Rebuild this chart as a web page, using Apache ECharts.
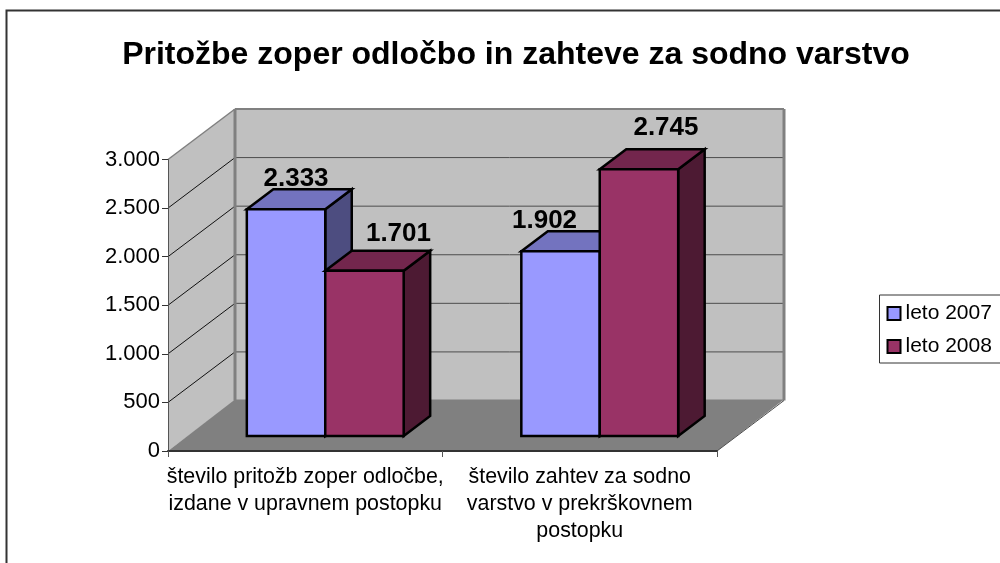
<!DOCTYPE html>
<html><head><meta charset="utf-8">
<style>html,body{margin:0;padding:0;background:#fff;overflow:hidden}#c{width:1000px;height:563px}</style>
<script src="https://cdn.jsdelivr.net/npm/echarts@6/dist/echarts.min.js"></script>
</head><body><div id="c"></div>
<script>
const titleText = 'Pritožbe zoper odločbo in zahteve za sodno varstvo';
const categories = ['število pritožb zoper odločbe,\nizdane v upravnem postopku',
                    'število zahtev za sodno\nvarstvo v prekrškovnem\npostopku'];
const nameA = 'leto 2007';
const nameB = 'leto 2008';
const valuesA = [2333, 1902];
const valuesB = [1701, 2745];
const yMax = 3000;
const yStep = 500;
const yTicks = [0, 500, 1000, 1500, 2000, 2500, 3000];

const FONT = '"Liberation Sans", Arial, sans-serif';
const fmt = v => String(v).replace(/\B(?=(\d{3})+$)/g, '.');
const WALL = [67, -50.5];      // projected depth of the whole chart box
const FRONT = [20, -15];       // projected gap from front edge to bar front
const BAR = [26.5, -20];       // projected depth of one bar
const LABEL_SHIFT = { [nameA]: [[10, 3], [-16, 3]], [nameB]: [[34, -4], [27, -8]] };

function wallItem(params, api) {
  const r = params.coordSys;
  const L = r.x, R = r.x + r.width, B = r.y + r.height, T = r.y;
  const [dx, dy] = WALL;
  const kids = [];
  const poly = (points, fill) => kids.push({ type: 'polygon', shape: { points }, style: { fill, stroke: null } });
  const line = (x1, y1, x2, y2, stroke, lineWidth) =>
    kids.push({ type: 'line', shape: { x1, y1, x2, y2 }, style: { stroke, lineWidth, fill: null } });
  poly([[L + dx, T + dy], [R + dx, T + dy], [R + dx, B + dy], [L + dx, B + dy]], '#C0C0C0');
  poly([[L, T], [L + dx, T + dy], [L + dx, B + dy], [L, B]], '#C0C0C0');
  poly([[L, B], [R, B], [R + dx, B + dy - 1], [L + dx, B + dy - 1]], '#808080');
  yTicks.forEach(t => {
    const y = api.coord([0, t])[1];
    if (t > 0 && t < yMax) {
      line(L + dx, y + dy, R + dx, y + dy, '#4d4d4d', 1);
      line(L, y, L + dx, y + dy, '#111', 1);
    }
  });
  line(L, T, L + dx, T + dy, '#808080', 1.5);
  line(L + dx, T + dy, R + dx, T + dy, '#808080', 2);
  line(L + dx, T + dy, L + dx, B + dy, '#808080', 3);
  line(R + dx, T + dy, R + dx, B + dy, '#808080', 3);
  line(R, B, R + dx, B + dy, '#4d4d4d', 1);
  return { type: 'group', children: kids };
}

function barItem(slot, colors, name) {
  return function (params, api) {
    const idx = api.value(0), val = api.value(1);
    const band = api.size([1, 0])[0];
    const w = band / 3.5;
    const cx = api.coord([idx, 0])[0];
    const x0 = cx + FRONT[0] + (slot - 1) * w, x1 = x0 + w;
    const y0 = api.coord([idx, 0])[1] + FRONT[1];
    const y1 = api.coord([idx, val])[1] + FRONT[1];
    const [dx, dy] = BAR;
    const st = fill => ({ fill, stroke: '#000', lineWidth: 2.5, lineJoin: 'miter' });
    const shift = LABEL_SHIFT[name][idx];
    return { type: 'group', children: [
      { type: 'polygon', shape: { points: [[x1, y0], [x1 + dx, y0 + dy], [x1 + dx, y1 + dy], [x1, y1]] }, style: st(colors.side) },
      { type: 'polygon', shape: { points: [[x0, y1], [x1, y1], [x1 + dx, y1 + dy], [x0 + dx, y1 + dy]] }, style: st(colors.top) },
      { type: 'rect', shape: { x: x0, y: y1, width: w, height: y0 - y1 }, style: st(colors.front) },
      { type: 'text', z2: 100, style: {
          text: fmt(val), x: (x0 + x1) / 2 + shift[0], y: y1 + dy + shift[1],
          fill: '#000', font: 'bold 26px ' + FONT, textAlign: 'center', textVerticalAlign: 'bottom' } }
    ] };
  };
}

const chart = echarts.init(document.getElementById('c'), null, { renderer: 'canvas' });
chart.setOption({
  animation: false,
  backgroundColor: '#fff',
  title: { text: titleText, left: 511, top: 34, textAlign: 'center',
           textStyle: { fontFamily: FONT, fontWeight: 'bold', fontSize: 32, color: '#000' } },
  grid: { left: 168, top: 159.5, width: 549, height: 291.5, containLabel: false },
  legend: { orient: 'vertical', left: 879.5, top: 295, padding: [8, 40, 6, 7], itemGap: 12,
            itemWidth: 13, itemHeight: 13, icon: 'rect', borderColor: '#333', borderWidth: 1,
            backgroundColor: '#fff', data: [nameA, nameB], itemStyle: { borderColor: '#000', borderWidth: 2 },
            textStyle: { fontFamily: FONT, fontSize: 21, color: '#000', padding: [0, 0, 0, 0] } },
  xAxis: { type: 'category', data: categories, z: 5,
           axisLine: { lineStyle: { color: '#333', width: 2 } },
           axisTick: { show: true, length: 6, lineStyle: { color: '#555', width: 1 } },
           axisLabel: { interval: 0, margin: 13, lineHeight: 27, fontFamily: FONT, fontSize: 21.4, color: '#000' } },
  yAxis: { type: 'value', min: 0, max: yMax, interval: yStep, z: 5,
           splitLine: { show: false },
           axisLine: { show: true, lineStyle: { color: '#555', width: 1 } },
           axisTick: { show: true, length: 6, lineStyle: { color: '#333', width: 1 } },
           axisLabel: { formatter: fmt, margin: 8, padding: [2, 0, 0, 0], fontFamily: FONT, fontSize: 22, color: '#000' } },
  series: [
    { type: 'custom', name: '_walls', z: 1, silent: true, clip: false, renderItem: wallItem, data: [[0, 0]] },
    { type: 'custom', name: nameA, z: 6, clip: false, itemStyle: { color: '#9999FF' },
      renderItem: barItem(0, { front: '#9999FF', top: '#7373BF', side: '#4D4D80' }, nameA),
      encode: { x: 0, y: 1 }, data: valuesA.map((v, i) => [i, v]) },
    { type: 'custom', name: nameB, z: 7, clip: false, itemStyle: { color: '#993366' },
      renderItem: barItem(1, { front: '#993366', top: '#73264D', side: '#4D1A33' }, nameB),
      encode: { x: 0, y: 1 }, data: valuesB.map((v, i) => [i, v]) }
  ],
  graphic: [{ type: 'rect', z: -10, silent: true, shape: { x: 6.5, y: 10.5, width: 1200, height: 800 },
              style: { fill: null, stroke: '#333', lineWidth: 2 } }]
});
</script></body></html>
